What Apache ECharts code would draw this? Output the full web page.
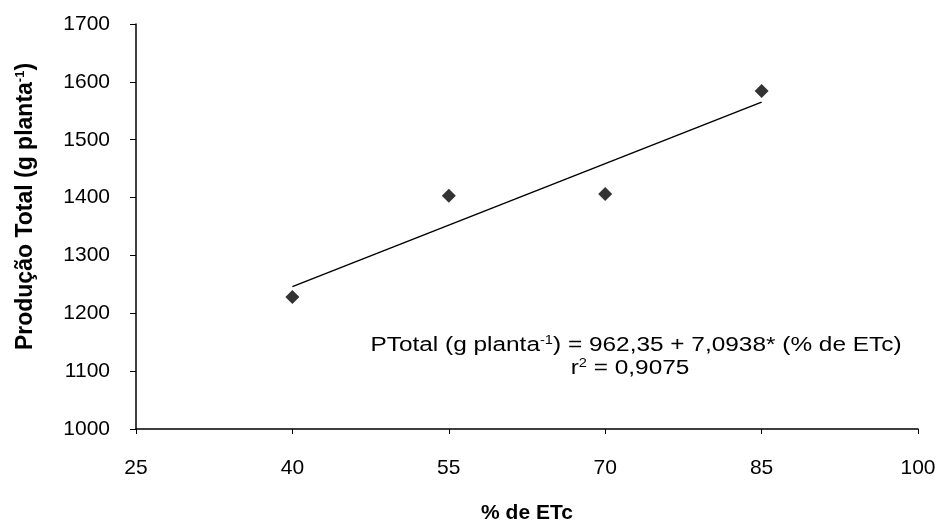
<!DOCTYPE html>
<html>
<head>
<meta charset="utf-8">
<script src="https://cdn.jsdelivr.net/npm/echarts@6/dist/echarts.min.js"></script>
<style>
  html, body { margin: 0; padding: 0; background: #fff; }
  #chart { width: 937px; height: 523px; }
</style>
</head>
<body>
<div id="chart"></div>
<script>
// observed points
const etc = [40, 55, 70, 85];
const producao = [1228, 1403, 1406, 1584];
// fitted line end points
const fitX = [40, 85];
const fitY = [1246, 1565];

const xTicks = { min: 25, max: 100, interval: 15 };
const yTicks = { min: 1000, max: 1700, interval: 100 };

const eqLine1 = 'PTotal (g planta{sup|-1}) = 962,35 + 7,0938* (% de ETc)';
const eqLine2 = 'r{sup|2} = 0,9075';

const font = '"Liberation Sans", Arial, sans-serif';
const supStyle = { fontFamily: font, fontSize: 12, lineHeight: 12, verticalAlign: 'top' };

let myChart = echarts.init(document.getElementById('chart'));

let option = {
  animation: false,
  grid: { left: 136, right: 19, top: 24, bottom: 94, outerBoundsMode: 'none' },
  xAxis: {
    type: 'value',
    min: xTicks.min, max: xTicks.max, interval: xTicks.interval,
    name: '% de ETc',
    nameLocation: 'middle',
    nameGap: 74,
    nameTextStyle: { fontFamily: font, fontWeight: 'bold', fontSize: 21, color: '#000' },
    axisLine: { lineStyle: { color: '#000', width: 1.5 } },
    axisTick: { show: true, length: 5, lineStyle: { color: '#000' } },
    axisLabel: { margin: 29, fontFamily: font, fontSize: 21, color: '#000', formatter: v => String(v) },
    splitLine: { show: false }
  },
  yAxis: {
    type: 'value',
    min: yTicks.min, max: yTicks.max, interval: yTicks.interval,
    name: 'Produção Total (g planta{sup|-1})',
    nameLocation: 'middle',
    nameGap: 99,
    nameTextStyle: {
      fontFamily: font, fontWeight: 'bold', fontSize: 23, color: '#000',
      padding: [0, 0, 0, 40],
      rich: {
        sup: { fontFamily: font, fontWeight: 'bold', fontSize: 13, verticalAlign: 'top', lineHeight: 13 }
      }
    },
    axisLine: { show: true, lineStyle: { color: '#000', width: 1.5 } },
    axisTick: { show: true, length: 6, lineStyle: { color: '#000' } },
    axisLabel: { margin: 26, fontFamily: font, fontSize: 21, color: '#000', formatter: v => String(v) },
    splitLine: { show: false }
  },
  graphic: [
    {
      type: 'text',
      x: 636, y: 345,
      scaleX: 1.22,
      style: {
        text: eqLine1,
        fontFamily: font, fontSize: 20, fill: '#000',
        align: 'center', verticalAlign: 'middle',
        rich: { sup: supStyle }
      }
    },
    {
      type: 'text',
      x: 630, y: 368,
      scaleX: 1.22,
      style: {
        text: eqLine2,
        fontFamily: font, fontSize: 20, fill: '#000',
        align: 'center', verticalAlign: 'middle',
        rich: { sup: supStyle }
      }
    }
  ],
  series: [
    {
      name: 'ajuste',
      type: 'line',
      data: fitX.map((x, i) => [x, fitY[i]]),
      showSymbol: false,
      lineStyle: { color: '#000', width: 1.5 },
      silent: true
    },
    {
      name: 'observado',
      type: 'scatter',
      data: etc.map((x, i) => [x, producao[i]]),
      symbol: 'diamond',
      symbolSize: 14,
      itemStyle: { color: '#000' }
    }
  ]
};

myChart.setOption(option);
</script>
</body>
</html>
